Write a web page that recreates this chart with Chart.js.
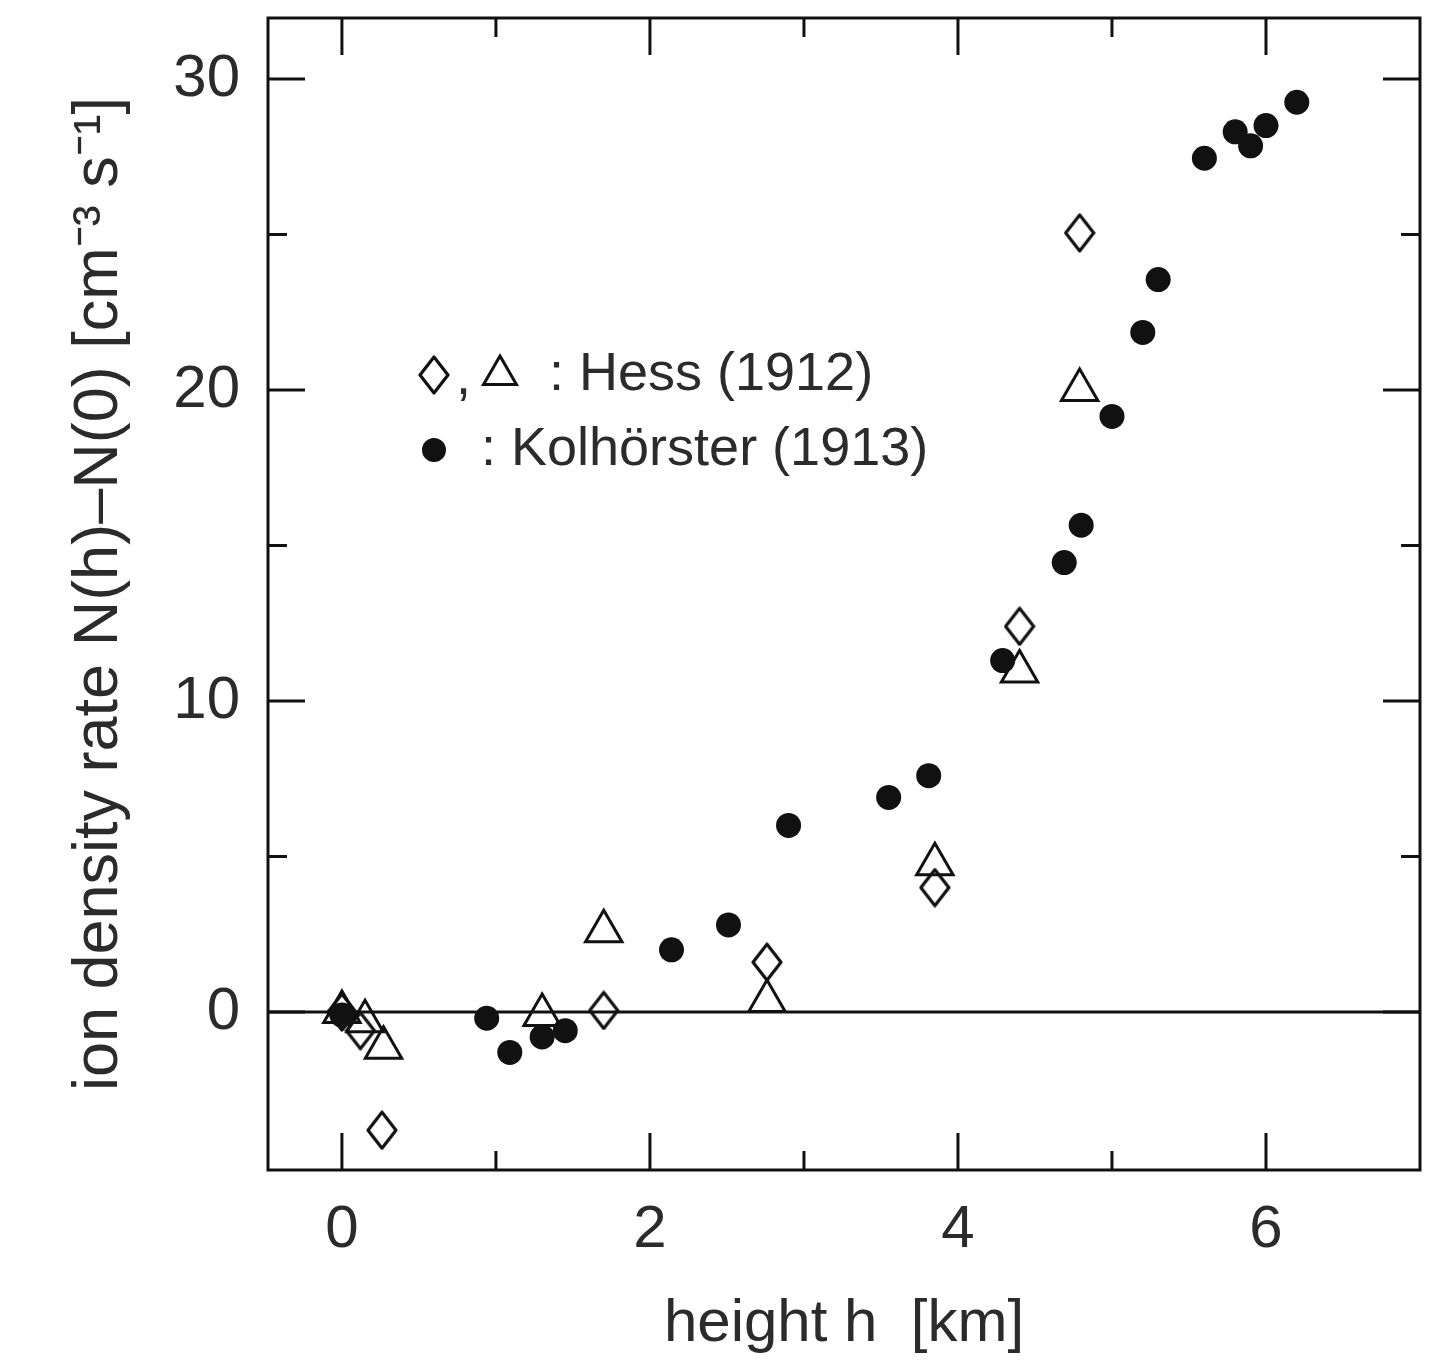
<!DOCTYPE html>
<html>
<head>
<meta charset="utf-8">
<title>Ion density vs height</title>
<script src="https://cdn.jsdelivr.net/npm/chart.js@4.4.0/dist/chart.umd.min.js"></script>
<style>
  html, body { margin: 0; padding: 0; background: #fff; }
  #wrap { width: 1450px; height: 1360px; }
</style>
</head>
<body>
<div id="wrap"><canvas id="canvas" width="1450" height="1360"></canvas></div>
<script>
// Kolhörster (1913), filled circles
const kolX = [0, 0.94, 1.09, 1.3, 1.45, 2.14, 2.51, 2.9, 3.55, 3.81, 4.29, 4.69, 4.8, 5.0, 5.2, 5.3, 5.6, 5.8, 5.9, 6.0, 6.2];
const kolY = [-0.1, -0.2, -1.3, -0.8, -0.6, 2.0, 2.8, 6.0, 6.9, 7.6, 11.3, 14.45, 15.65, 19.15, 21.85, 23.55, 27.45, 28.3, 27.85, 28.5, 29.25];

// Hess (1912), open diamonds
const hessDiaX = [0, 0.12, 0.26, 1.7, 2.76, 3.85, 4.4, 4.79];
const hessDiaY = [0, -0.6, -3.8, 0.05, 1.6, 4.0, 12.4, 25.05];

// Hess (1912), open triangles
const hessTriX = [0, 0.15, 0.27, 1.3, 1.7, 2.76, 3.85, 4.4, 4.79];
const hessTriY = [0, -0.3, -1.15, -0.1, 2.6, 0.35, 4.75, 10.95, 20.0];

// axes
const xTickValues = [0, 1, 2, 3, 4, 5, 6];
const xLabelValues = [0, 2, 4, 6];
const yTickValues = [0, 5, 10, 15, 20, 25, 30];
const yLabelValues = [0, 10, 20, 30];

const textColor = '#2b2b2b';
const ink = '#111';
const fontFamily = '"Liberation Sans", Arial, Helvetica, sans-serif';

function toPoints(xs, ys) {
  return xs.map((x, i) => ({ x: x, y: ys[i] }));
}

// tall open diamond used as a point style
function makeDiamond(w, h, lw) {
  const c = document.createElement('canvas');
  c.width = w;
  c.height = h;
  const g = c.getContext('2d');
  g.strokeStyle = ink;
  g.lineWidth = lw;
  g.lineJoin = 'round';
  g.beginPath();
  g.moveTo(w / 2, 2);
  g.lineTo(w - 2, h / 2);
  g.lineTo(w / 2, h - 2);
  g.lineTo(2, h / 2);
  g.closePath();
  g.stroke();
  return c;
}
const diamond = makeDiamond(32, 40, 3.2);

// frame, inward ticks and the zero line
const frameTicks = {
  id: 'frameTicks',
  beforeDatasetsDraw(chart) {
    const { ctx, chartArea: a, scales: { x, y } } = chart;
    ctx.save();
    ctx.strokeStyle = ink;
    ctx.lineWidth = 3;
    ctx.strokeRect(a.left, a.top, a.right - a.left, a.bottom - a.top);

    ctx.beginPath();
    xTickValues.forEach(v => {
      const px = x.getPixelForValue(v);
      const len = xLabelValues.includes(v) ? 37 : 19;
      ctx.moveTo(px, a.bottom); ctx.lineTo(px, a.bottom - len);
      ctx.moveTo(px, a.top); ctx.lineTo(px, a.top + len);
    });
    yTickValues.forEach(v => {
      const py = y.getPixelForValue(v);
      const len = yLabelValues.includes(v) ? 37 : 19;
      ctx.moveTo(a.left, py); ctx.lineTo(a.left + len, py);
      ctx.moveTo(a.right, py); ctx.lineTo(a.right - len, py);
    });
    ctx.stroke();

    const y0 = y.getPixelForValue(0);
    ctx.beginPath();
    ctx.moveTo(a.left, y0);
    ctx.lineTo(a.right, y0);
    ctx.stroke();
    ctx.restore();
  }
};

// in-plot key
const keyPlugin = {
  id: 'keyPlugin',
  afterDatasetsDraw(chart) {
    const { ctx, chartArea: a } = chart;
    const x0 = a.left + 166;
    const row1 = a.top + 357;
    const row2 = a.top + 432;
    ctx.save();
    ctx.drawImage(diamond, x0 - 16, row1 - 20);

    // triangle
    const tx = x0 + 66, r = 19;
    ctx.strokeStyle = ink;
    ctx.lineWidth = 3;
    ctx.beginPath();
    ctx.moveTo(tx, row1 - r);
    ctx.lineTo(tx + r * 0.866, row1 + r / 2);
    ctx.lineTo(tx - r * 0.866, row1 + r / 2);
    ctx.closePath();
    ctx.stroke();

    // filled dot
    ctx.fillStyle = ink;
    ctx.beginPath();
    ctx.arc(x0, row2, 12, 0, Math.PI * 2);
    ctx.fill();

    ctx.fillStyle = textColor;
    ctx.font = '54px ' + fontFamily;
    ctx.textBaseline = 'middle';
    ctx.fillText(',', x0 + 22, row1 + 4);
    ctx.fillText(': Hess (1912)', x0 + 115, row1);
    ctx.fillText(': Kolhörster (1913)', x0 + 47, row2);
    ctx.restore();
  }
};

const ctx = document.getElementById('canvas').getContext('2d');

new Chart(ctx, {
  type: 'scatter',
  data: {
    datasets: [
      {
        label: 'Kolhörster (1913)',
        data: toPoints(kolX, kolY),
        pointStyle: 'circle',
        pointRadius: 12.5,
        pointBackgroundColor: ink,
        pointBorderColor: ink,
        pointBorderWidth: 0
      },
      {
        label: 'Hess (1912) diamonds',
        data: toPoints(hessDiaX, hessDiaY),
        pointStyle: diamond,
        pointRadius: 16
      },
      {
        label: 'Hess (1912) triangles',
        data: toPoints(hessTriX, hessTriY),
        pointStyle: 'triangle',
        pointRadius: 21,
        pointBackgroundColor: 'rgba(0,0,0,0)',
        pointBorderColor: ink,
        pointBorderWidth: 3
      }
    ]
  },
  options: {
    responsive: false,
    animation: false,
    layout: { autoPadding: false, padding: { top: 18, right: 30, left: 0, bottom: 0 } },
    plugins: {
      legend: { display: false },
      tooltip: { enabled: false }
    },
    scales: {
      x: {
        type: 'linear',
        min: -0.48,
        max: 7,
        grid: { display: false, drawTicks: false },
        border: { display: false },
        afterBuildTicks: s => { s.ticks = xTickValues.map(v => ({ value: v })); },
        afterFit: s => { s.height = 190; s.paddingLeft = 0; s.paddingRight = 0; },
        ticks: {
          autoSkip: false,
          maxRotation: 0,
          padding: 24,
          color: textColor,
          font: { family: fontFamily, size: 60 },
          callback: v => xLabelValues.includes(v) ? String(v) : ''
        },
        title: {
          display: true,
          text: 'height h  [km]',
          color: textColor,
          font: { family: fontFamily, size: 60 },
          padding: { top: 0, bottom: 0 }
        }
      },
      y: {
        type: 'linear',
        min: -5.08,
        max: 31.96,
        grid: { display: false, drawTicks: false },
        border: { display: false },
        afterBuildTicks: s => { s.ticks = yTickValues.map(v => ({ value: v })); },
        afterFit: s => { s.width = 268; s.paddingTop = 0; s.paddingBottom = 0; },
        ticks: {
          autoSkip: false,
          padding: 28,
          color: textColor,
          font: { family: fontFamily, size: 60 },
          callback: v => yLabelValues.includes(v) ? String(v) : ''
        },
        title: {
          display: true,
          text: 'ion density rate N(h)–N(0) [cm⁻³ s⁻¹]',
          color: textColor,
          font: { family: fontFamily, size: 63 },
          padding: { top: 62, bottom: 0 }
        }
      }
    }
  },
  plugins: [frameTicks, keyPlugin]
});
</script>
</body>
</html>
